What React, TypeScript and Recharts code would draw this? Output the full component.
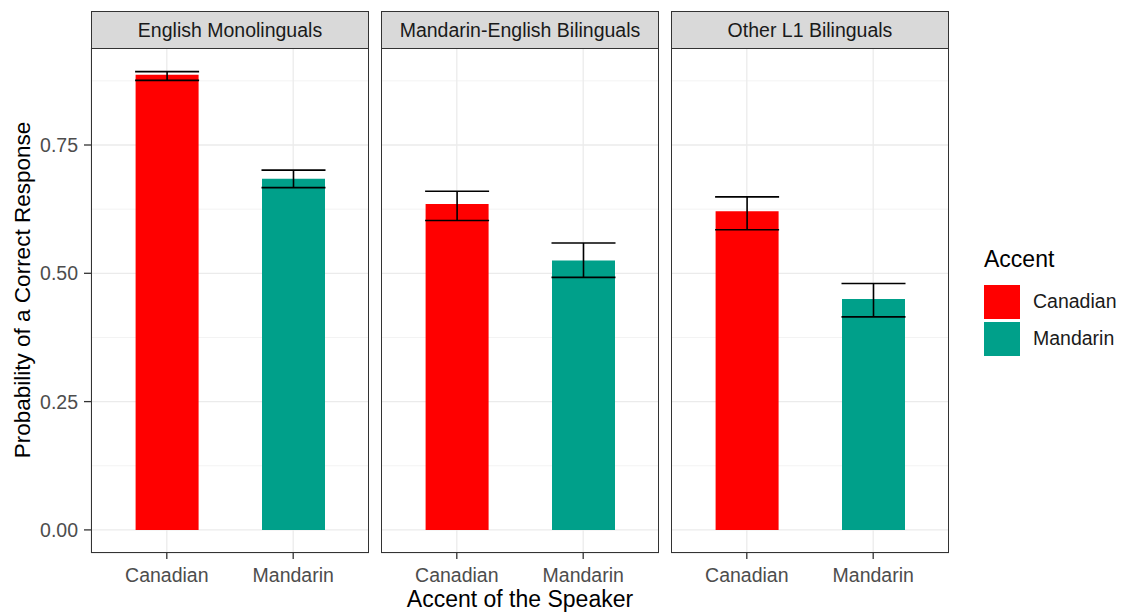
import React from 'react';
import { BarChart, Bar, XAxis, YAxis, CartesianGrid, ErrorBar, Cell } from 'recharts';

// Facets, accents and fitted probabilities with confidence limits
const groups = ['English Monolinguals', 'Mandarin-English Bilinguals', 'Other L1 Bilinguals'];
const accents = ['Canadian', 'Mandarin'];
const canadianProb = [0.887, 0.635, 0.621];
const canadianLow = [0.876, 0.603, 0.585];
const canadianHigh = [0.893, 0.66, 0.649];
const mandarinProb = [0.684, 0.525, 0.45];
const mandarinLow = [0.667, 0.492, 0.415];
const mandarinHigh = [0.701, 0.559, 0.48];
const majorTicks = [0, 0.25, 0.5, 0.75];
const minorTicks = [0.125, 0.375, 0.625, 0.875];
const tickLabels = ['0.00', '0.25', '0.50', '0.75'];

const COLORS = ['#FF0000', '#00A08A'];
const FONT = '"Liberation Sans", Arial, sans-serif';
const DOMAIN: [number, number] = [-0.045, 0.939];

const panelLeft = [91, 381, 671];
const PANEL_W = 278;
const PLOT_TOP = 48;
const PLOT_H = 505;
const XAXIS_H = 40;
const Y_AXIS_W = 91;

const panelData = groups.map((g, i) => [
  {
    accent: accents[0],
    prob: canadianProb[i],
    err: [canadianProb[i] - canadianLow[i], canadianHigh[i] - canadianProb[i]],
  },
  {
    accent: accents[1],
    prob: mandarinProb[i],
    err: [mandarinProb[i] - mandarinLow[i], mandarinHigh[i] - mandarinProb[i]],
  },
]);

const Panel = ({ index }: { index: number }) => {
  const first = index === 0;
  const chartW = first ? PANEL_W + Y_AXIS_W : PANEL_W;
  return (
    <div
      style={{
        position: 'absolute',
        left: first ? panelLeft[0] - Y_AXIS_W : panelLeft[index],
        top: PLOT_TOP,
      }}
    >
      <BarChart
        width={chartW}
        height={PLOT_H + XAXIS_H}
        data={panelData[index]}
        margin={{ top: 0, right: 0, bottom: 0, left: 0 }}
        barSize={63}
      >
        <CartesianGrid yAxisId="minor" vertical={false} stroke="#F3F3F3" strokeWidth={1} />
        <CartesianGrid stroke="#EBEBEB" strokeWidth={1.3} />
        <XAxis
          dataKey="accent"
          height={XAXIS_H}
          padding={{ left: 12.6, right: 12.6 }}
          axisLine={false}
          tickSize={6}
          tickMargin={9}
          tickLine={{ stroke: '#333333', strokeWidth: 1.3 }}
          tick={{ fill: '#4D4D4D', fontSize: 19.5, fontFamily: FONT }}
        />
        <YAxis
          type="number"
          domain={DOMAIN}
          allowDataOverflow
          ticks={majorTicks}
          tickFormatter={(v: number) => tickLabels[majorTicks.indexOf(v)]}
          hide={!first}
          width={Y_AXIS_W}
          axisLine={false}
          tickSize={7}
          tickMargin={6}
          tickLine={{ stroke: '#333333', strokeWidth: 1.3 }}
          tick={{ fill: '#4D4D4D', fontSize: 19.5, fontFamily: FONT }}
        />
        <YAxis yAxisId="minor" type="number" domain={DOMAIN} allowDataOverflow ticks={minorTicks} hide />
        <Bar dataKey="prob" isAnimationActive={false}>
          {panelData[index].map((d, k) => (
            <Cell key={`cell-${k}`} fill={COLORS[k]} />
          ))}
          <ErrorBar dataKey="err" width={32} stroke="#000000" strokeWidth={1.6} direction="y" />
        </Bar>
      </BarChart>
      {/* panel border */}
      <div
        style={{
          position: 'absolute',
          left: first ? Y_AXIS_W : 0,
          top: 0,
          width: PANEL_W,
          height: PLOT_H,
          boxSizing: 'border-box',
          border: '1.5px solid #333333',
          pointerEvents: 'none',
        }}
      />
      {/* strip */}
      <div
        style={{
          position: 'absolute',
          left: first ? Y_AXIS_W : 0,
          top: -37,
          width: PANEL_W,
          height: 38,
          boxSizing: 'border-box',
          border: '1.5px solid #333333',
          background: '#D9D9D9',
          color: '#1A1A1A',
          fontFamily: FONT,
          fontSize: 19.5,
          display: 'flex',
          alignItems: 'center',
          justifyContent: 'center',
        }}
      >
        {groups[index]}
      </div>
    </div>
  );
};

const App = () => {
  return (
    <div
      style={{
        position: 'absolute',
        left: 0,
        top: 0,
        width: 1123,
        height: 612,
        background: '#FFFFFF',
        fontFamily: FONT,
        overflow: 'hidden',
      }}
    >
      {groups.map((g, i) => (
        <Panel key={g} index={i} />
      ))}

      {/* y axis title */}
      <div
        style={{
          position: 'absolute',
          left: 23,
          top: 290,
          transform: 'translate(-50%, -50%) rotate(-90deg)',
          whiteSpace: 'nowrap',
          fontSize: 22.5,
          color: '#000000',
        }}
      >
        Probability of a Correct Response
      </div>

      {/* x axis title */}
      <div
        style={{
          position: 'absolute',
          left: 520,
          top: 599,
          transform: 'translate(-50%, -50%)',
          whiteSpace: 'nowrap',
          fontSize: 23,
          color: '#000000',
        }}
      >
        Accent of the Speaker
      </div>

      {/* legend */}
      <div style={{ position: 'absolute', left: 984, top: 245 }}>
        <div style={{ fontSize: 23, color: '#000000', lineHeight: '28px', marginBottom: 10 }}>Accent</div>
        {accents.map((a, k) => (
          <div key={a} style={{ display: 'flex', alignItems: 'center', height: 37 }}>
            <div style={{ width: 36, height: 34, background: COLORS[k] }} />
            <div style={{ marginLeft: 13, fontSize: 19.5, color: '#1A1A1A' }}>{a}</div>
          </div>
        ))}
      </div>
    </div>
  );
};

export default App;
